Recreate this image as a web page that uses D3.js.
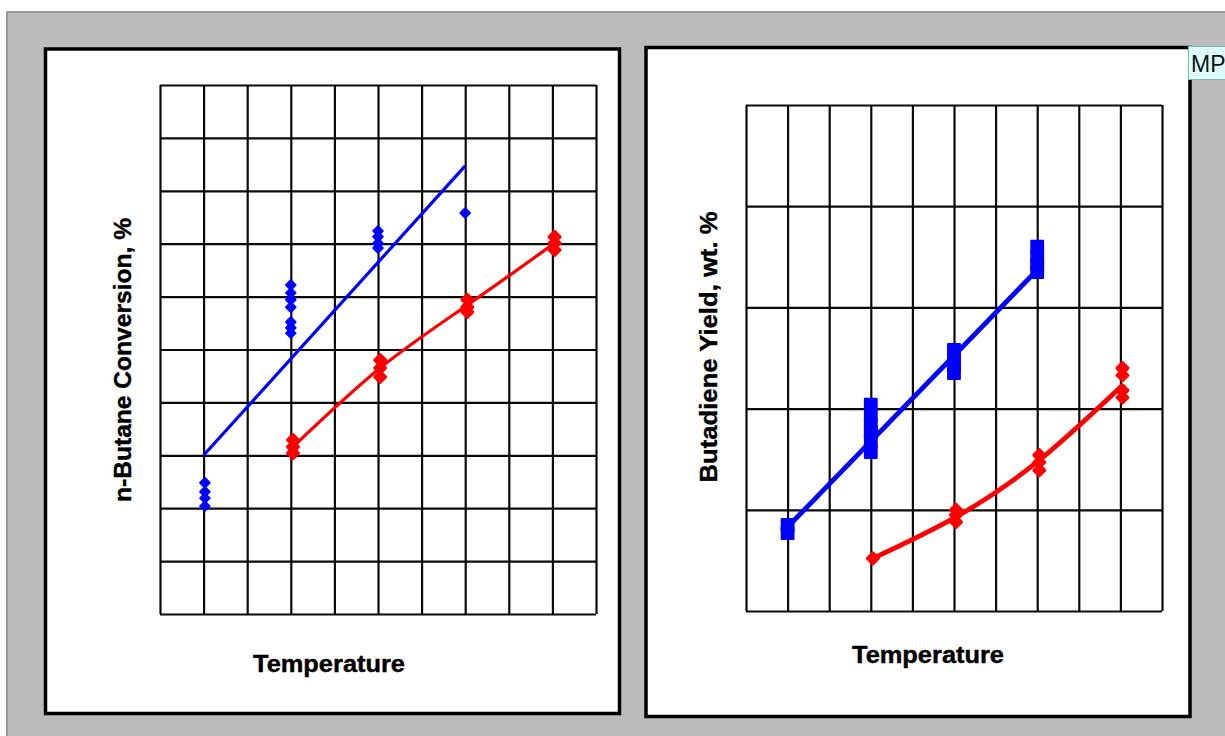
<!DOCTYPE html>
<html>
<head>
<meta charset="utf-8">
<script src="https://cdn.jsdelivr.net/npm/d3@7"></script>
<style>
  body { margin: 0; background: #fff; }
  text { font-family: "Liberation Sans", Arial, sans-serif; }
</style>
</head>
<body>
<svg id="chart" width="1225" height="736"></svg>
<script>
// grid units: x = column index (0-10), y = row index from bottom
const leftBluePts = [[1.03,2.48],[1.03,2.31],[1.03,2.19],[1.03,2.04],
  [3,6.22],[3,6.07],[3,5.94],[3,5.80],[3,5.52],[3,5.41],[3,5.31],
  [5,7.24],[5,7.13],[5,7.01],[5,6.92],[7,7.58]];
const leftBlueFit = [[1,3.0],[7,8.47]];
const leftRedPts = [[3.05,3.29],[3.05,3.16],[3.05,3.04],[5.05,4.80],[5.05,4.65],[5.05,4.48],
  [7.05,5.94],[7.05,5.80],[7.05,5.71],[9.05,7.13],[9.05,7.01],[9.05,6.88]];
const leftRedFit = [[3.05,3.16],[5.05,4.65],[7.05,5.84],[9.05,7.01]];

const rightBluePts = [[1,0.85],[1,0.77],[3,2.04],[3,1.94],[3,1.84],[3,1.76],[3,1.68],[3,1.57],
  [5,2.58],[5,2.51],[5,2.43],[5,2.35],[7,3.60],[7,3.50],[7,3.42],[7,3.35]];
const rightBlueFit = [[1,0.83],[7,3.37]];
const rightRedPts = [[3.05,0.52],[5.05,1.0],[5.05,0.95],[5.05,0.88],[7.05,1.54],[7.05,1.47],[7.05,1.39],
  [9.05,2.40],[9.05,2.33],[9.05,2.18],[9.05,2.11]];
const rightRedFit = [[3.05,0.52],[5.05,0.93],[7.05,1.49],[9.05,2.23]];

const xTicks = d3.range(0, 11);
const leftYTicks = d3.range(0, 11);
const rightYTicks = d3.range(0, 6);

const svg = d3.select("#chart");

// grey backdrop
svg.append("rect").attr("x", 7).attr("y", 12).attr("width", 1230).attr("height", 740)
  .attr("fill", "#bcbcbc").attr("stroke", "#9a9a9a").attr("stroke-width", 2);

// white panels
svg.append("rect").attr("x", 45.5).attr("y", 49).attr("width", 574).attr("height", 664.5)
  .attr("fill", "#fff").attr("stroke", "#000").attr("stroke-width", 3.5);
svg.append("rect").attr("x", 646).attr("y", 47.5).attr("width", 544).attr("height", 669)
  .attr("fill", "#fff").attr("stroke", "#000").attr("stroke-width", 3.5);

function drawPanel(cfg) {
  const x = d3.scaleLinear().domain([0, 10]).range([cfg.left, cfg.right]);
  const y = d3.scaleLinear().domain([0, cfg.yMax]).range([cfg.bottom, cfg.top]);
  const g = svg.append("g");

  // grid
  g.append("g").attr("transform", `translate(0,${cfg.bottom})`)
    .call(d3.axisBottom(x).tickValues(xTicks).tickSize(-(cfg.bottom - cfg.top)).tickFormat(""))
    .call(a => a.select(".domain").remove());
  g.append("g").attr("transform", `translate(${cfg.left},0)`)
    .call(d3.axisLeft(y).tickValues(cfg.yTicks).tickSize(-(cfg.right - cfg.left)).tickFormat(""))
    .call(a => a.select(".domain").remove());
  g.selectAll(".tick line").attr("stroke", "#0a0a0a").attr("stroke-width", 2.2);

  const line = d3.line().x(d => x(d[0])).y(d => y(d[1]));
  const curve = d3.line().x(d => x(d[0])).y(d => y(d[1])).curve(d3.curveNatural);

  g.append("path").datum(cfg.blueFit).attr("d", line)
    .attr("fill", "none").attr("stroke", "#0000ff").attr("stroke-width", cfg.lw);
  g.append("path").datum(cfg.redFit).attr("d", curve)
    .attr("fill", "none").attr("stroke", "#ff0000").attr("stroke-width", cfg.lw);

  g.selectAll(".bpt").data(cfg.bluePts).join("path")
    .attr("d", d3.symbol(d3.symbolSquare, cfg.blueSize))
    .attr("transform", d => `translate(${x(d[0])},${y(d[1])}) rotate(${cfg.blueRot})`)
    .attr("fill", "#0000ff").attr("stroke", "#0000ff").attr("stroke-width", 2)
    .attr("stroke-linejoin", "round");
  g.selectAll(".rpt").data(cfg.redPts).join("path")
    .attr("d", d3.symbol(d3.symbolSquare, cfg.redSize))
    .attr("transform", d => `translate(${x(d[0])},${y(d[1])}) rotate(45)`)
    .attr("fill", "#ff0000").attr("stroke", "#ff0000").attr("stroke-width", 3)
    .attr("stroke-linejoin", "round");

  // axis titles
  svg.append("text").attr("x", cfg.xLabel[0]).attr("y", cfg.xLabel[1])
    .attr("text-anchor", "middle").attr("font-size", 23).attr("font-weight", "bold")
    .attr("textLength", 152).attr("lengthAdjust", "spacingAndGlyphs")
    .attr("stroke", "#000").attr("stroke-width", 0.4)
    .text("Temperature");
  svg.append("text")
    .attr("transform", `translate(${cfg.yLabel[0]},${cfg.yLabel[1]}) rotate(-90)`)
    .attr("text-anchor", "middle").attr("font-size", 23).attr("font-weight", "bold")
    .attr("textLength", cfg.yLabelLen).attr("lengthAdjust", "spacingAndGlyphs")
    .attr("stroke", "#000").attr("stroke-width", 0.4)
    .text(cfg.yTitle);
}

drawPanel({
  left: 160, right: 596, top: 85, bottom: 614, yMax: 10, yTicks: leftYTicks,
  bluePts: leftBluePts, blueFit: leftBlueFit, redPts: leftRedPts, redFit: leftRedFit,
  lw: 3.2, blueSize: 45, blueRot: 45, redSize: 60,
  xLabel: [329, 672], yLabel: [131, 360], yLabelLen: 284,
  yTitle: "n-Butane Conversion, %"
});

drawPanel({
  left: 746, right: 1162, top: 105, bottom: 611, yMax: 5, yTicks: rightYTicks,
  bluePts: rightBluePts, blueFit: rightBlueFit, redPts: rightRedPts, redFit: rightRedFit,
  lw: 4.8, blueSize: 140, blueRot: 0, redSize: 60,
  xLabel: [928, 663], yLabel: [717, 347], yLabelLen: 271,
  yTitle: "Butadiene Yield, wt. %"
});

// "MP" tag at the top right
svg.append("rect").attr("x", 1188.5).attr("y", 46.5).attr("width", 40).attr("height", 33)
  .attr("fill", "#dcfcfc").attr("stroke", "#7cb8b8").attr("stroke-width", 1);
svg.append("text").attr("x", 1191).attr("y", 72).attr("font-size", 23)
  .attr("font-family", "DejaVu Sans, sans-serif").attr("fill", "#111").text("MP");
</script>
</body>
</html>
